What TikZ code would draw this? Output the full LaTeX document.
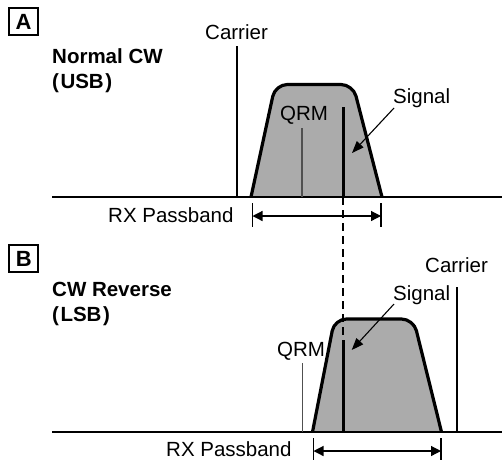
\documentclass[tikz,border=0pt]{standalone}
\usepackage{fontspec}
\setmainfont{Liberation Sans}
\usetikzlibrary{arrows.meta}
\definecolor{bandgray}{HTML}{ABABAB}
\definecolor{qrmgray}{HTML}{505050}
\begin{document}
\begin{tikzpicture}[x=1pt,y=-1pt,
  txt/.style={inner sep=0pt, font=\fontsize{20.5}{24}\selectfont},
  btxt/.style={inner sep=0pt, font=\fontsize{20.5}{24}\selectfont\bfseries},
  tag/.style={draw, line width=2pt, minimum width=29pt, minimum height=27pt, inner sep=0pt, font=\fontsize{22}{24}\selectfont\bfseries},
  axisline/.style={line width=1.2pt},
  carrierline/.style={line width=1.1pt},
  qrmline/.style={line width=1.1pt, qrmgray},
  sigline/.style={line width=3pt},
  bandfill/.style={fill=bandgray},
  bandedge/.style={line width=3.2pt, line join=round},
  tickline/.style={line width=1.1pt},
  pbarrow/.style={line width=1.2pt, {Triangle[length=10pt,width=10pt]}-{Triangle[length=10pt,width=10pt]}},
  ptr/.style={line width=1.1pt, -{Triangle[length=12pt,width=9pt]}},
  dashline/.style={line width=1.6pt, dash pattern=on 8pt off 5pt}
]
\useasboundingbox (0,0) rectangle (502,459);

% ---------------- Panel A ----------------
\node[tag] (tagA) at (23.5,21.5) {A};
\node[btxt, anchor=base west] (titleA1) at (52,63) {Normal CW};
\node[btxt, anchor=base west] (titleA2) at (52,88) {(\kern1.5pt USB\kern1.5pt)};

\coordinate (axAl) at (52,197);
\coordinate (axAr) at (502,197);

% band A
\fill[bandfill] (251,197) [rounded corners=12pt] -- (275.3,84.5) -- (353,84.5) [sharp corners] -- (382,197) -- cycle;

\draw[axisline] (axAl) -- (axAr);

% carrier A
\node[txt, anchor=base west] (carrierA) at (205,39) {Carrier};
\coordinate (cAtop) at (237,46);
\coordinate (cAbot) at (237,197);
\draw[carrierline] (cAtop) -- (cAbot);

% QRM A
\node[txt, anchor=base west] (qrmA) at (280,120.7) {QRM};
\coordinate (qAtop) at (302,128);
\coordinate (qAbot) at (302,197);
\draw[qrmline] (qAtop) -- (qAbot);

% signal A
\coordinate (sAtop) at (343,107);
\coordinate (sAbot) at (343,197);
\draw[sigline] (sAtop) -- (sAbot);

\draw[bandedge] (251,197) [rounded corners=12pt] -- (275.3,84.5) -- (353,84.5) [sharp corners] -- (382,197);

\node[txt, anchor=base west] (signalA) at (393,103) {Signal};
\coordinate (sAtip) at (352,153);
\draw[ptr] ([shift={(1,5)}]signalA.base west) -- (sAtip);

% passband A
\node[txt, anchor=base west] (pbA) at (108,222.5) {RX Passband};
\coordinate (pAl) at (252.5,216);
\coordinate (pAr) at (381,216);
\draw[tickline] (252.5,203) -- (252.5,227);
\draw[tickline] (381,203) -- (381,227);
\draw[pbarrow] (pAl) -- (pAr);

% ---------------- Panel B ----------------
\node[tag] (tagB) at (23.7,258.7) {B};
\node[btxt, anchor=base west] (titleB1) at (52,296) {CW Reverse};
\node[btxt, anchor=base west] (titleB2) at (52,321.7) {(\kern1.5pt LSB\kern1.5pt)};

\coordinate (axBl) at (52,432);
\coordinate (axBr) at (502,432);

% band B
\fill[bandfill] (312.5,432) [rounded corners=12pt] -- (334.5,319) -- (413.5,319) [sharp corners] -- (441.5,432) -- cycle;

\draw[axisline] (axBl) -- (axBr);

% carrier B
\node[txt, anchor=base west] (carrierB) at (425,272) {Carrier};
\coordinate (cBtop) at (457,287);
\coordinate (cBbot) at (457,432);
\draw[carrierline] (cBtop) -- (cBbot);

% QRM B
\node[txt, anchor=base west] (qrmB) at (277,356.7) {QRM};
\coordinate (qBtop) at (302.5,363);
\coordinate (qBbot) at (302.5,432);
\draw[qrmline] (qBtop) -- (qBbot);

\draw[bandedge] (312.5,432) [rounded corners=12pt] -- (334.5,319) -- (413.5,319) [sharp corners] -- (441.5,432);

% signal B
\coordinate (sBtop) at (343,340);
\coordinate (sBbot) at (343,432);
\draw[sigline] (sBtop) -- (sBbot);

% dashed link between signals
\draw[dashline] (sAbot) -- (sBtop);

\node[txt, anchor=base west] (signalB) at (393,300) {Signal};
\coordinate (sBtip) at (351.7,350);
\draw[ptr] ([shift={(1,4)}]signalB.base west) -- (sBtip);

% passband B
\node[txt, anchor=base west] (pbB) at (166,456) {RX Passband};
\coordinate (pBl) at (313.5,451);
\coordinate (pBr) at (441,451);
\draw[tickline] (313.5,438) -- (313.5,462);
\draw[tickline] (441,438) -- (441,462);
\draw[pbarrow] (pBl) -- (pBr);
\end{tikzpicture}
\end{document}
